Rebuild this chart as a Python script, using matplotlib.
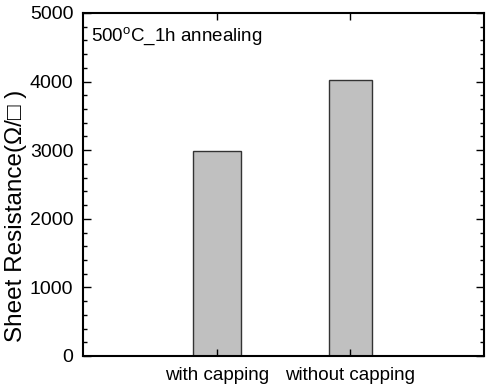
import matplotlib
matplotlib.use("Agg")
import matplotlib.pyplot as plt
from matplotlib.ticker import MultipleLocator

plt.rcParams['font.family'] = ['Liberation Sans', 'DejaVu Sans']
plt.rcParams['mathtext.fontset'] = 'custom'
plt.rcParams['mathtext.rm'] = 'Liberation Sans'

categories = ["with capping", "without capping"]
positions = [1, 2]
values = [2990, 4030]
widths = [0.36, 0.32]

fig = plt.figure(figsize=(4.91, 3.89), dpi=100)
ax = fig.add_axes([83/491, 1-356/389, (484-83)/491, (356-13)/389])

ax.bar(positions, values, width=widths, color='#c0c0c0', edgecolor='#333333', linewidth=1.0)

ax.set_xlim(0, 3)
ax.set_ylim(0, 5000)
ax.set_xticks(positions)
ax.set_xticklabels(categories)
ax.yaxis.set_major_locator(MultipleLocator(1000))
ax.yaxis.set_minor_locator(MultipleLocator(200))
ax.tick_params(axis='both', which='both', direction='in', top=True, right=True)
ax.tick_params(axis='x', length=5, width=1, pad=8, labelsize=13.5)
ax.tick_params(axis='y', which='major', length=6, width=1, pad=7, labelsize=14)
ax.tick_params(axis='y', which='minor', length=3, width=1)
for s in ax.spines.values():
    s.set_linewidth(1.5)

ax.set_ylabel("Sheet Resistance(Ω/\u25a1 )", fontsize=17.5, va='center')
ax.yaxis.set_label_coords(-0.168, (356-216)/343)
ax.text(0.02, 0.93, "500$^{\\mathrm{o}}$C_1h annealing", transform=ax.transAxes,
        fontsize=13.5, ha='left', va='center')

fig.savefig("out.png", dpi=100)
